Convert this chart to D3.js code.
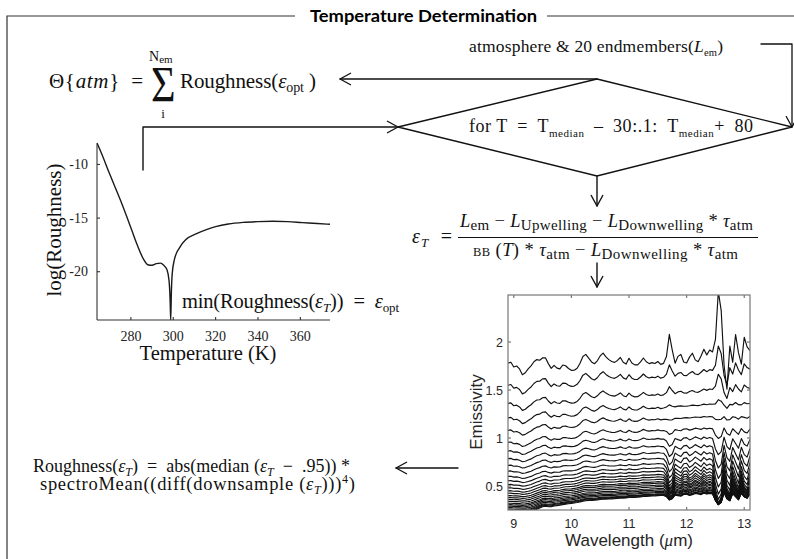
<!DOCTYPE html>
<html>
<head>
<meta charset="utf-8">
<script src="https://cdn.jsdelivr.net/npm/d3@7"></script>
<style>
  html, body { margin: 0; padding: 0; background: #fff; }
  svg { display: block; }
  .serif { font-family: "Liberation Serif", "Times New Roman", serif; }
  .sans  { font-family: "Liberation Sans", Arial, sans-serif; }
  .title { font-family: Lato, "Open Sans", sans-serif; font-weight: bold; }
</style>
</head>
<body>
<svg id="fig" width="794" height="559"></svg>
<script>
// ---------- Roughness vs. temperature curve ----------
const roughTemp = [264, 266, 270, 275, 280, 283, 286, 288, 290, 292, 294, 295.5, 297, 298, 298.5, 298.8,
  299.1, 299.5, 300.5, 303, 306, 311, 316, 320, 326, 333, 340, 347, 354, 361, 368, 374];
const roughLog = [-8.0, -8.9, -10.9, -13.3, -15.9, -17.5, -18.85, -19.35, -19.4, -19.25, -19.2, -19.4, -19.8, -20.8, -22.5, -24.5,
  -22.0, -20.2, -18.9, -17.75, -17.0, -16.45, -16.05, -15.8, -15.55, -15.4, -15.33, -15.3, -15.33, -15.42, -15.5, -15.58];
const roughXTicks = [280, 300, 320, 340, 360];
const roughYTicks = [-10, -15, -20];

// ---------- Emissivity spectra ----------
const wavelength = [
  8.90, 8.95, 9.00, 9.05, 9.10, 9.15, 9.20, 9.25, 9.30, 9.35,
  9.40, 9.45, 9.50, 9.55, 9.60, 9.65, 9.70, 9.75, 9.80, 9.85,
  9.90, 9.95, 10.00, 10.05, 10.10, 10.15, 10.20, 10.25, 10.30, 10.35,
  10.40, 10.45, 10.50, 10.55, 10.60, 10.65, 10.70, 10.75, 10.80, 10.85,
  10.90, 10.95, 11.00, 11.05, 11.10, 11.15, 11.20, 11.25, 11.30, 11.35,
  11.40, 11.45, 11.50, 11.55, 11.60, 11.65, 11.70, 11.75, 11.80, 11.85,
  11.90, 11.95, 12.00, 12.05, 12.10, 12.15, 12.20, 12.25, 12.30, 12.35,
  12.40, 12.45, 12.50, 12.55, 12.60, 12.65, 12.70, 12.75, 12.80, 12.85,
  12.90, 12.95, 13.00, 13.05, 13.10];
// broad upward trend of the spectra (0 at the left edge, 1 at the right edge)
const riseShape = [
  0, 0, 0, 0, 0, 0, 0, 0.01, 0.03, 0.07,
  0.12, 0.18, 0.24, 0.26, 0.25, 0.26, 0.29, 0.31, 0.33, 0.35,
  0.38, 0.40, 0.42, 0.44, 0.46, 0.48, 0.50, 0.52, 0.54, 0.55,
  0.56, 0.57, 0.58, 0.59, 0.60, 0.61, 0.62, 0.63, 0.64, 0.65,
  0.66, 0.67, 0.68, 0.69, 0.70, 0.71, 0.72, 0.73, 0.74, 0.75,
  0.76, 0.77, 0.78, 0.79, 0.80, 0.81, 0.82, 0.82, 0.83, 0.84,
  0.85, 0.86, 0.87, 0.88, 0.89, 0.90, 0.91, 0.92, 0.92, 0.93,
  0.94, 0.94, 0.95, 0.95, 0.96, 0.96, 0.97, 0.97, 0.98, 0.98,
  0.99, 0.99, 1.00, 1.00, 1.00];
// spectral ripple shared by all curves (strongest on the coldest curve)
const wiggle = [
  0.00, 0.01, -0.04, -0.03, -0.06, -0.12, -0.10, -0.06, -0.03, 0.01,
  0.03, 0.02, 0.04, 0.04, -0.02, -0.07, -0.04, -0.07, -0.08, -0.04,
  -0.05, -0.08, -0.10, -0.10, -0.08, -0.03, 0.04, 0.06, 0.02, -0.02,
  -0.04, -0.01, 0.04, 0.07, 0.03, 0.00, -0.02, -0.03, -0.01, 0.02,
  -0.03, -0.05, 0.01, -0.04, -0.06, -0.06, -0.03, 0.01, -0.03, -0.05,
  -0.04, -0.05, -0.03, -0.06, -0.05, -0.04, -0.03, -0.03, -0.03, -0.03,
  -0.03, -0.03, -0.03, -0.03, -0.03, -0.03, -0.03, -0.03, -0.03, -0.03,
  -0.03, -0.03, -0.03, -0.03, -0.03, -0.03, -0.03, -0.03, -0.03, -0.03,
  -0.03, -0.03, -0.03, -0.03, -0.03];
// atmospheric lines appearing as peaks on the cold curves
const emission = [
  0, 0, 0, 0, 0, 0, 0, 0, 0, 0,
  0, 0, 0, 0, 0, 0, 0, 0, 0, 0,
  0, 0, 0, 0, 0, 0, 0, 0, 0, 0,
  0, 0, 0, 0, 0, 0, 0, 0, 0, 0,
  0, 0, 0, 0, 0, 0, 0, 0, 0, 0,
  0, 0, 0, 0, 0.00, 0.06, 0.28, 0.12, -0.02, 0.05,
  0.07, -0.01, -0.02, 0.04, 0.08, 0.01, -0.01, 0.05, 0.12, 0.06,
  0.11, 0.09, 0.22, 0.72, 0.52, -0.05, -0.30, 0.15, -0.02, 0.27,
  0.08, -0.04, 0.24, 0.14, 0.10];
// the same lines appearing as dips on the hot curves
const absorption = [
  0, 0, 0, 0, 0, 0, 0, 0, 0, 0,
  0, 0, 0, 0, 0, 0, 0, 0, 0, 0,
  0, 0, 0, 0, 0, 0, 0, 0, 0, 0,
  0, 0, 0, 0, 0, 0, 0, 0, 0, 0,
  0, 0, 0, 0, 0, 0, 0, 0, 0, 0,
  0, 0, 0, 0, 0.02, 0.15, 0.45, 0.35, 0.05, 0.12,
  0.18, 0.05, 0.04, 0.17, 0.12, 0.03, 0.10, 0.17, 0.05, 0.14,
  0.10, 0.15, 0.70, 1.00, 0.85, 0.10, 0.60, 0.75, 0.20, 0.45,
  0.70, 0.20, 0.50, 0.60, 0.25];
// one entry per trial temperature, coldest first
const curveLevel = [1.78, 1.55, 1.36, 1.21, 1.08, 0.955, 0.865, 0.785, 0.715, 0.655, 0.60, 0.555, 0.515, 0.48,
  0.45, 0.425, 0.40, 0.38, 0.36, 0.34, 0.32, 0.305, 0.29, 0.275, 0.26, 0.25, 0.24, 0.23];
const curveRise = [0.06, 0.15, 0.15, 0.16, 0.17, 0.18, 0.18, 0.18, 0.18, 0.18, 0.18, 0.18, 0.185, 0.185,
  0.19, 0.19, 0.19, 0.195, 0.195, 0.2, 0.2, 0.2, 0.2, 0.205, 0.205, 0.21, 0.215, 0.22];
const curveWiggle = [1.0, 0.75, 0.6, 0.5, 0.42, 0.36, 0.31, 0.27, 0.23, 0.2, 0.18, 0.16, 0.14, 0.12,
  0.11, 0.1, 0.09, 0.08, 0.07, 0.07, 0.06, 0.06, 0.05, 0.05, 0.05, 0.04, 0.04, 0.04];
const curveEmission = [1.0, 0.4, 0.25, 0.1, 0.03, 0, 0, 0, 0, 0, 0, 0, 0, 0,
  0, 0, 0, 0, 0, 0, 0, 0, 0, 0, 0, 0, 0, 0];
const curveAbsorption = [0, 0, 0, 0.02, 0.06, 0.12, 0.2, 0.26, 0.3, 0.33, 0.35, 0.36, 0.36, 0.34,
  0.31, 0.29, 0.27, 0.25, 0.23, 0.21, 0.2, 0.18, 0.17, 0.16, 0.15, 0.14, 0.13, 0.12];
const emisXTicks = [9, 10, 11, 12, 13];
const emisYTicks = [0.5, 1, 1.5, 2];

// ---------- drawing ----------
const INK = '#111';
const svg = d3.select('#fig');

// text built from runs: plain, italic, subscript, superscript
function rich(x, y, size, parts, len, anchor) {
  const t = svg.append('text').attr('class', 'serif')
    .attr('x', x).attr('y', y)
    .attr('font-size', size).attr('fill', INK);
  if (anchor) t.attr('text-anchor', anchor);
  let off = 0;
  parts.forEach(p => {
    let target = 0;
    if (p.sub) target = p.shift != null ? p.shift : size * 0.25;
    if (p.sup) target = -(p.shift != null ? p.shift : size * 0.4);
    const s = t.append('tspan').text(p.t).attr('dy', target - off);
    off = target;
    if (p.i) s.attr('font-style', 'italic');
    if (p.size) s.attr('font-size', p.size);
    else if (p.sub || p.sup) s.attr('font-size', size * 0.7);
  });
  if (len) t.attr('textLength', len).attr('lengthAdjust', 'spacing');
  return t;
}

function arrow(points, width) {
  const g = svg.append('g').attr('stroke', INK).attr('stroke-width', width || 1.4)
    .attr('fill', 'none').attr('stroke-linecap', 'round').attr('stroke-linejoin', 'round');
  g.append('path').attr('d', d3.line()(points));
  const [x2, y2] = points[points.length - 1];
  const [x1, y1] = points[points.length - 2];
  const a = Math.atan2(y2 - y1, x2 - x1), L = 12, h = 0.5;
  g.append('path').attr('d', d3.line()([
    [x2 - L * Math.cos(a - h), y2 - L * Math.sin(a - h)],
    [x2, y2],
    [x2 - L * Math.cos(a + h), y2 - L * Math.sin(a + h)]
  ]));
}

const SP = '\u2002';   // en space used around operators

// frame with title
const frame = svg.append('g').attr('stroke', '#333').attr('stroke-width', 1.2).attr('fill', 'none');
frame.append('path').attr('d', 'M7,559 V16 H295');
frame.append('path').attr('d', 'M547,16 H794');
svg.append('text').attr('class', 'title').attr('x', 310).attr('y', 22)
  .attr('font-size', 17).attr('fill', '#000')
  .attr('textLength', 227).attr('lengthAdjust', 'spacingAndGlyphs')
  .text('Temperature Determination');

// flow: inputs, loop diamond
rich(469, 52, 17.5, [{ t: 'atmosphere & 20 endmembers(' }, { t: 'L', i: true }, { t: 'em', sub: true, size: 10.5, shift: 4 }, { t: ')' }], 254);
arrow([[761, 44], [792, 44], [792, 127]], 1.3);

svg.append('path')
  .attr('d', 'M597,79 L792,127 L597,176 L398,127 Z')
  .attr('fill', 'none').attr('stroke', INK).attr('stroke-width', 1.4).attr('stroke-linejoin', 'miter');
rich(469, 132, 18, [
  { t: 'for T' + SP + '=' + SP + 'T' }, { t: 'median', sub: true, size: 11, shift: 5 },
  { t: SP + '–' + SP + '30:.1:' + SP + 'T' }, { t: 'median', sub: true, size: 11, shift: 5 }, { t: '+' + SP + '80' }], 284);

arrow([[597, 79], [340, 79]]);
arrow([[143, 170], [143, 127], [398, 127]]);

// objective function
rich(49, 88, 21, [{ t: 'Θ{' }, { t: 'atm', i: true }, { t: '}' + SP + '=' }], 94);
svg.append('text').attr('class', 'serif').attr('transform', 'translate(151,101) scale(0.88,1.04)')
  .attr('font-size', 48).attr('fill', INK).text('Σ');
rich(149, 61, 14, [{ t: 'N' }, { t: 'em', sub: true, size: 11, shift: 2 }]);
rich(163, 118, 13, [{ t: 'i' }], null, 'middle');
rich(180, 88, 21, [{ t: 'Roughness(' }, { t: 'ε', i: true }, { t: 'opt', sub: true, size: 14, shift: 4 }, { t: ' )' }], 136);

// emissivity equation
arrow([[597, 176], [597, 206]]);
rich(412, 243, 20, [{ t: 'ε', i: true }, { t: 'T', i: true, sub: true, size: 13, shift: 4 }, { t: SP + '=' }], 40);
rich(460, 227, 18.5, [
  { t: 'L', i: true }, { t: 'em', sub: true, size: 15, shift: 3 }, { t: ' − ' },
  { t: 'L', i: true }, { t: 'Upwelling', sub: true, size: 15, shift: 3 }, { t: '  − ' },
  { t: 'L', i: true }, { t: 'Downwelling', sub: true, size: 15, shift: 3 }, { t: '  * ' },
  { t: 'τ', i: true }, { t: 'atm', sub: true, size: 15, shift: 3 }], 293);
svg.append('line').attr('x1', 458).attr('x2', 758).attr('y1', 237.5).attr('y2', 237.5)
  .attr('stroke', INK).attr('stroke-width', 1.2);
rich(473, 256, 18.5, [
  { t: 'BB', size: 12.5 }, { t: ' (' }, { t: 'T', i: true }, { t: ') * ' },
  { t: 'τ', i: true }, { t: 'atm', sub: true, size: 15, shift: 3 }, { t: '  − ' },
  { t: 'L', i: true }, { t: 'Downwelling', sub: true, size: 15, shift: 3 }, { t: '  * ' },
  { t: 'τ', i: true }, { t: 'atm', sub: true, size: 15, shift: 3 }], 265);
arrow([[597, 263], [597, 287]]);

// roughness definition
rich(33, 472, 18, [
  { t: 'Roughness(' }, { t: 'ε', i: true }, { t: 'T', i: true, sub: true, size: 12, shift: 4 },
  { t: ')' + SP + '=' + SP + 'abs(median (' }, { t: 'ε', i: true }, { t: 'T', i: true, sub: true, size: 12, shift: 4 },
  { t: SP + '−' + SP + '.95)) *' }], 317);
rich(40, 490, 18.5, [
  { t: 'spectroMean((diff(downsample (' }, { t: 'ε', i: true }, { t: 'T', i: true, sub: true, size: 12, shift: 4 },
  { t: ')))' }, { t: '4', sup: true, size: 12, shift: 7 }, { t: ')' }], 315);
arrow([[458, 468], [396, 468]]);

// ---------- log(Roughness) chart ----------
const xR = d3.scaleLinear().domain([264, 374]).range([97, 330]);
const yR = d3.scaleLinear().domain([-24.5, -8]).range([320, 143]);
const gR = svg.append('g');
gR.append('defs').append('clipPath').attr('id', 'clipR')
  .append('rect').attr('x', 97).attr('y', 140).attr('width', 240).attr('height', 180);
gR.append('path')
  .datum(roughTemp.map((t, k) => [t, roughLog[k]]))
  .attr('clip-path', 'url(#clipR)')
  .attr('fill', 'none').attr('stroke', '#1a1a1a').attr('stroke-width', 1.4)
  .attr('d', d3.line().x(d => xR(d[0])).y(d => yR(d[1])).curve(d3.curveMonotoneX));

const axR = gR.append('g').attr('stroke', '#333').attr('stroke-width', 1.1);
axR.append('line').attr('x1', xR.range()[0]).attr('x2', xR.range()[0]).attr('y1', yR.range()[1]).attr('y2', yR.range()[0]);
axR.append('line').attr('x1', xR.range()[0]).attr('x2', xR.range()[1]).attr('y1', yR.range()[0]).attr('y2', yR.range()[0]);
roughXTicks.forEach(v => {
  axR.append('line').attr('x1', xR(v)).attr('x2', xR(v)).attr('y1', yR.range()[0]).attr('y2', yR.range()[0] - 3);
  gR.append('text').attr('class', 'serif').attr('x', xR(v)).attr('y', 341).attr('text-anchor', 'middle')
    .attr('font-size', 14).attr('fill', '#222').text(v);
});
roughYTicks.forEach(v => {
  axR.append('line').attr('x1', xR.range()[0]).attr('x2', xR.range()[0] + 3).attr('y1', yR(v)).attr('y2', yR(v));
  gR.append('text').attr('class', 'serif').attr('x', 88).attr('y', yR(v) + 4.5).attr('text-anchor', 'end')
    .attr('font-size', 14).attr('fill', '#222').text(v);
});
gR.append('text').attr('class', 'serif').attr('x', 208).attr('y', 360).attr('text-anchor', 'middle')
  .attr('font-size', 20.5).attr('fill', INK).text('Temperature (K)');
gR.append('text').attr('class', 'serif').attr('transform', 'translate(61,230) rotate(-90)').attr('text-anchor', 'middle')
  .attr('font-size', 21).attr('fill', INK).text('log(Roughness)');
rich(182, 308, 20.5, [
  { t: 'min(Roughness(' }, { t: 'ε', i: true }, { t: 'T', i: true, sub: true, size: 13, shift: 4 },
  { t: '))' + SP + '=' + SP }, { t: 'ε', i: true }, { t: 'opt', sub: true, size: 13, shift: 4 }], 217);

// ---------- Emissivity chart ----------
const xE = d3.scaleLinear().domain([8.9, 13.1]).range([508, 750]);
const yE = d3.scaleLinear().domain([0.25, 2.49]).range([510, 295]);
const gE = svg.append('g');
gE.append('defs').append('clipPath').attr('id', 'clipE')
  .append('rect').attr('x', 508).attr('y', 295).attr('width', 242).attr('height', 215);

const spectra = curveLevel.map((lv, i) => wavelength.map((w, j) => ({
  w,
  v: lv + curveRise[i] * riseShape[j] + curveWiggle[i] * wiggle[j]
     + curveEmission[i] * emission[j] - curveAbsorption[i] * absorption[j]
})));
gE.append('g').attr('clip-path', 'url(#clipE)')
  .selectAll('path').data(spectra).join('path')
  .attr('fill', 'none').attr('stroke', '#111').attr('stroke-width', 1.15)
  .attr('stroke-linejoin', 'round')
  .attr('d', d3.line().x(d => xE(d.w)).y(d => yE(d.v)));

const axE = gE.append('g').attr('stroke', '#777').attr('stroke-width', 1.2).attr('fill', 'none');
axE.append('rect').attr('x', 508).attr('y', 295).attr('width', 242).attr('height', 215);
emisXTicks.forEach(v => {
  axE.append('line').attr('x1', xE(v)).attr('x2', xE(v)).attr('y1', 510).attr('y2', 507);
  axE.append('line').attr('x1', xE(v)).attr('x2', xE(v)).attr('y1', 295).attr('y2', 298);
  gE.append('text').attr('class', 'sans').attr('x', xE(v)).attr('y', 528).attr('text-anchor', 'middle')
    .attr('font-size', 12.5).attr('fill', '#262626').text(v);
});
emisYTicks.forEach(v => {
  axE.append('line').attr('x1', 508).attr('x2', 511).attr('y1', yE(v)).attr('y2', yE(v));
  axE.append('line').attr('x1', 750).attr('x2', 747).attr('y1', yE(v)).attr('y2', yE(v));
  gE.append('text').attr('class', 'sans').attr('x', 503).attr('y', yE(v) + 4.5).attr('text-anchor', 'end')
    .attr('font-size', 12.5).attr('fill', '#262626').text(v);
});
gE.append('text').attr('class', 'sans').attr('transform', 'translate(482,412) rotate(-90)').attr('text-anchor', 'middle')
  .attr('font-size', 17).attr('fill', '#262626').text('Emissivity');
const wl = gE.append('text').attr('class', 'sans').attr('x', 629).attr('y', 546).attr('text-anchor', 'middle')
  .attr('font-size', 17).attr('fill', '#262626');
wl.append('tspan').text('Wavelength (');
wl.append('tspan').attr('class', 'serif').attr('font-style', 'italic').text('μ');
wl.append('tspan').text('m)');
</script>
</body>
</html>
